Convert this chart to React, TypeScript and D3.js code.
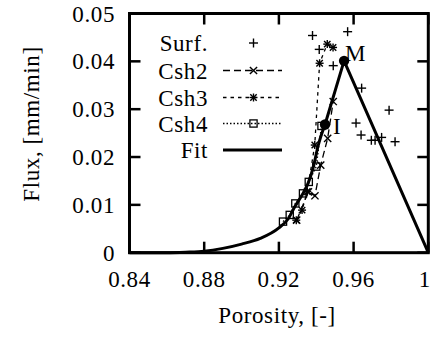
import React from "react";
import * as d3 from "d3";

const W = 431;
const H = 337;

const xTicks = [0.84, 0.88, 0.92, 0.96, 1.0];
const xTickLabels = ["0.84", "0.88", "0.92", "0.96", "1"];
const yTicks = [0, 0.01, 0.02, 0.03, 0.04, 0.05];
const yTickLabels = ["0", "0.01", "0.02", "0.03", "0.04", "0.05"];

const surfPoros = [0.938, 0.9568, 0.9416, 0.9491, 0.9643, 0.979, 0.9613, 0.964, 0.9695, 0.9715, 0.975, 0.9822];
const surfFlux = [0.0454, 0.0462, 0.0425, 0.0391, 0.0344, 0.0298, 0.0271, 0.0246, 0.0235, 0.0235, 0.0241, 0.0232];

const csh2Poros = [0.9295, 0.9358, 0.9393, 0.9424, 0.9461, 0.9491];
const csh2Flux = [0.0068, 0.0127, 0.0119, 0.0183, 0.0239, 0.0316];

const csh3Poros = [0.9293, 0.9324, 0.9352, 0.9392, 0.9418, 0.9459, 0.949];
const csh3Flux = [0.0068, 0.0089, 0.0128, 0.0225, 0.0396, 0.0436, 0.0429];

const csh4Poros = [0.9222, 0.9258, 0.9288, 0.9329, 0.936, 0.94, 0.9428];
const csh4Flux = [0.0065, 0.0079, 0.0103, 0.0124, 0.0148, 0.018, 0.0265];

const fitPoros = [0.84, 0.86, 0.87, 0.88, 0.89, 0.9, 0.91, 0.92, 0.925, 0.9285, 0.932, 0.9356, 0.9385, 0.9409, 0.9447, 0.9549, 1.0];
const fitFlux = [0, 0, 0.0001, 0.0003, 0.0009, 0.0018, 0.003, 0.0052, 0.0071, 0.0096, 0.0118, 0.0145, 0.018, 0.0222, 0.0268, 0.0401, 0];

const pointLabels = ["I", "M"];
const pointPoros = [0.9447, 0.9549];
const pointFlux = [0.0268, 0.0401];

const legendLabels = ["Surf.", "Csh2", "Csh3", "Csh4", "Fit"];

const FONT = "Liberation Serif, DejaVu Serif, serif";

function Marker({ type, x, y }: { type: string; x: number; y: number }) {
  const s = 4.5;
  if (type === "plus") {
    return (
      <g stroke="#000" strokeWidth={1.4}>
        <line x1={x - s} x2={x + s} y1={y} y2={y} />
        <line x1={x} x2={x} y1={y - s} y2={y + s} />
      </g>
    );
  }
  if (type === "cross") {
    const c = 3.6;
    return (
      <g stroke="#000" strokeWidth={1.4}>
        <line x1={x - c} x2={x + c} y1={y - c} y2={y + c} />
        <line x1={x - c} x2={x + c} y1={y + c} y2={y - c} />
      </g>
    );
  }
  if (type === "star") {
    const c = 3.2;
    return (
      <g stroke="#000" strokeWidth={1.4}>
        <line x1={x - c} x2={x + c} y1={y - c} y2={y + c} />
        <line x1={x - c} x2={x + c} y1={y + c} y2={y - c} />
        <line x1={x - 4} x2={x + 4} y1={y} y2={y} />
        <line x1={x} x2={x} y1={y - 4} y2={y + 4} />
      </g>
    );
  }
  return <rect x={x - 3.6} y={y - 3.6} width={7.2} height={7.2} fill="none" stroke="#000" strokeWidth={1.3} />;
}

function T(props: any) {
  const { children, ...rest } = props;
  return (
    <text fontSize={23} fill="#000" letterSpacing={0.6} style={{ fontFamily: FONT }} {...rest}>
      {children}
    </text>
  );
}

export default function App() {
  const x = d3.scaleLinear().domain([0.84, 1.0]).range([129.5, 428.3]);
  const y = d3.scaleLinear().domain([0, 0.05]).range([252.7, 13.5]);
  const [x0, x1] = x.range();
  const [y0, y1] = y.range();

  const mk = (px: number[], py: number[], curve: d3.CurveFactory = d3.curveLinear) =>
    d3
      .line<number>()
      .x((v) => x(v))
      .y((_, i) => y(py[i]))
      .curve(curve)(px) as string;

  const iIdx = fitPoros.indexOf(0.9447);
  const fitLow = mk(fitPoros.slice(0, iIdx + 1), fitFlux.slice(0, iIdx + 1), d3.curveMonotoneX);
  const fitHigh = mk(fitPoros.slice(iIdx), fitFlux.slice(iIdx));

  const csh2Path = mk(csh2Poros, csh2Flux);
  const csh3Path = mk(csh3Poros, csh3Flux);
  const csh4Path = mk(csh4Poros, csh4Flux);

  const tickLen = 11;
  const legY = [43, 70.5, 97.5, 123.5, 150];
  const legTextX = 208;
  const legL0 = 223;
  const legL1 = 282;
  const legMid = 253.5;

  return (
    <svg width={W} height={H} style={{ position: "absolute", left: 0, top: 0, background: "#fff" }}>
      <rect width={W} height={H} fill="#fff" />
      <path d={csh2Path} fill="none" stroke="#000" strokeWidth={1.3} strokeDasharray="7 4" />
      <path d={csh3Path} fill="none" stroke="#000" strokeWidth={1.3} strokeDasharray="3.5 4" />
      <path d={csh4Path} fill="none" stroke="#000" strokeWidth={1.3} strokeDasharray="1.5 2" />
      {surfPoros.map((v, i) => (
        <Marker key={"s" + i} type="plus" x={x(v)} y={y(surfFlux[i])} />
      ))}
      {csh2Poros.map((v, i) => (
        <Marker key={"c2" + i} type="cross" x={x(v)} y={y(csh2Flux[i])} />
      ))}
      {csh3Poros.map((v, i) => (
        <Marker key={"c3" + i} type="star" x={x(v)} y={y(csh3Flux[i])} />
      ))}
      {csh4Poros.map((v, i) => (
        <Marker key={"c4" + i} type="square" x={x(v)} y={y(csh4Flux[i])} />
      ))}
      <path d={fitLow} fill="none" stroke="#000" strokeWidth={3} strokeLinejoin="round" />
      <path d={fitHigh} fill="none" stroke="#000" strokeWidth={3} strokeLinejoin="round" />
      {pointPoros.map((v, i) => (
        <g key={"p" + i}>
          <circle cx={x(v)} cy={y(pointFlux[i])} r={5.2} fill="#000" />
          <T x={x(v) + (i === 0 ? 8 : 1)} y={y(pointFlux[i]) + (i === 0 ? 10 : 0.5)} textAnchor="start">
            {pointLabels[i]}
          </T>
        </g>
      ))}

      <rect x={x0} y={y1} width={x1 - x0} height={y0 - y1} fill="none" stroke="#000" strokeWidth={3} />
      {xTicks.map((t, i) => (
        <g key={"xt" + i}>
          <line x1={x(t)} x2={x(t)} y1={y0} y2={y0 - tickLen} stroke="#000" strokeWidth={2.5} />
          <line x1={x(t)} x2={x(t)} y1={y1} y2={y1 + tickLen} stroke="#000" strokeWidth={2.5} />
          <T x={i === xTicks.length - 1 ? x(t) - 3.5 : x(t)} y={287} textAnchor="middle">
            {xTickLabels[i]}
          </T>
        </g>
      ))}
      {yTicks.map((t, i) => (
        <g key={"yt" + i}>
          <line x1={x0} x2={x0 + tickLen} y1={y(t)} y2={y(t)} stroke="#000" strokeWidth={2.5} />
          <line x1={x1} x2={x1 - tickLen} y1={y(t)} y2={y(t)} stroke="#000" strokeWidth={2.5} />
          <T x={115} y={y(t)} dy="0.35em" textAnchor="end">
            {yTickLabels[i]}
          </T>
        </g>
      ))}

      <T x={277} y={323} textAnchor="middle">
        Porosity, [-]
      </T>
      <T transform="translate(39,124) rotate(-90)" textAnchor="middle">
        Flux, [mm/min]
      </T>

      {legendLabels.map((lab, i) => (
        <T key={"lt" + i} x={legTextX} y={legY[i]} dy="0.35em" textAnchor="end">
          {lab}
        </T>
      ))}
      <Marker type="plus" x={legMid} y={legY[0]} />
      <line x1={legL0} x2={legL1} y1={legY[1]} y2={legY[1]} stroke="#000" strokeWidth={1.3} strokeDasharray="7 4" />
      <Marker type="cross" x={legMid} y={legY[1]} />
      <line x1={legL0} x2={legL1} y1={legY[2]} y2={legY[2]} stroke="#000" strokeWidth={1.3} strokeDasharray="3.5 4" />
      <Marker type="star" x={legMid} y={legY[2]} />
      <line x1={legL0} x2={legL1} y1={legY[3]} y2={legY[3]} stroke="#000" strokeWidth={1.3} strokeDasharray="1.5 2" />
      <Marker type="square" x={legMid} y={legY[3]} />
      <line x1={legL0} x2={legL1} y1={legY[4]} y2={legY[4]} stroke="#000" strokeWidth={3} />
    </svg>
  );
}
